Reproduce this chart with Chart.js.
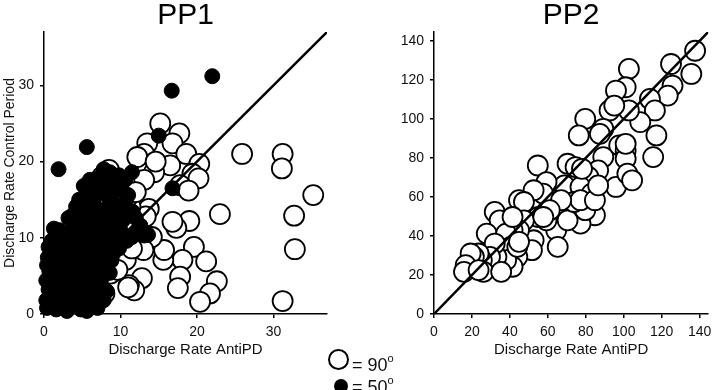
<!DOCTYPE html>
<html>
<head>
<meta charset="utf-8">
<script src="https://cdn.jsdelivr.net/npm/chart.js@4.4.0/dist/chart.umd.min.js"></script>
<style>
	body { margin: 0; background: #fff; width: 720px; height: 390px; position: relative; overflow: hidden; font-family: "Liberation Sans", Arial, sans-serif; }
	canvas { position: absolute; top: 0; }
	#pp1 { left: 0; }
	#pp2 { left: 380px; }
	.mk { position: absolute; box-sizing: border-box; border-radius: 50%; }
	.open { left: 328px; top: 349px; width: 21px; height: 21px; border: 2px solid #000; background: #fff; }
	.filled { left: 334px; top: 379px; width: 14px; height: 14px; background: #000; }
	.lbl { position: absolute; font-size: 18px; line-height: 20px; color: #111; white-space: nowrap; }
	.lbl sup { font-size: 11px; position: relative; top: -2px; }
</style>
</head>
<body>
<canvas id="pp1" width="345" height="390"></canvas>
<canvas id="pp2" width="340" height="390"></canvas>

<span class="mk open"></span><span class="lbl" style="left:352px;top:350px">= 90<sup>o</sup></span>
<span class="mk filled"></span><span class="lbl" style="left:352px;top:372px">= 50<sup>o</sup></span>

<script>
// ---- data ----
// PP1, 90 deg (open circles)
var pp1OpenX = [15.2,17.7,13.5,16.8,13.1,18.6,16.5,14.4,20.3,19.4,20.2,17.8,18.9,25.9,31.2,31.1,35.2,32.7,32.8,31.2,
	23.0,19.0,17.3,16.8,19.6,21.2,22.6,21.7,20.4,18.1,17.8,17.5,15.6,15.7,14.1,13.7,13.3,12.6,13.0,12.8,
	11.8,11.1,10.7,10.7,11.5,10.2,11.3,9.6,8.7,7.9,7.6,8.5,7.4,6.6,12.2,9.2,8.0,11.5,13.1,10.9,
	7.7,8.3,9.6,11.0,6.0,5.0,8.8,9.9,12.0,14.6];
var pp1OpenY = [25.0,23.7,22.4,22.4,21.0,21.0,19.5,18.6,19.7,18.4,17.8,16.9,16.2,21.0,21.0,19.1,15.6,12.9,8.5,1.7,
	13.1,12.2,11.3,12.1,8.8,6.9,4.3,2.7,1.6,7.1,4.9,3.4,7.1,8.4,10.1,13.8,12.8,10.6,8.4,4.7,
	3.1,3.8,7.1,9.7,8.6,14.9,14.1,14.5,5.3,2.7,18.0,18.9,10.1,12.8,20.6,9.3,7.9,16.7,17.6,15.3,
	10.6,7.5,5.8,3.5,14.5,10.0,13.5,12.5,16.0,20.0];

// PP1, 50 deg (filled dots)
var pp1FilledX = [22.0,16.7,5.6,1.9,15.0,16.8,1.3,9.8,11.5,10.6,7.4,7.0,5.5,4.2,6.1,7.9,8.7,10.7,9.6,8.3,
	11.5,13.1,12.3,10.0,9.2,5.0,3.2,2.5,
	0.4,1.0,1.6,2.2,2.8,3.5,4.2,5.0,5.8,6.6,7.3,0.6,1.3,2.0,2.8,3.6,4.4,5.2,6.0,6.8,7.6,0.7,
	1.5,2.3,3.1,3.9,4.7,5.5,6.3,7.1,8.0,1.2,2.0,2.8,3.6,4.4,5.2,6.0,6.8,7.6,8.4,3.0,
	4.0,4.8,5.8,6.6,7.4,1.0,0.5,8.6,8.2,9.0,1.8,3.0,4.8,
	0.3,0.9,1.4,2.5,3.3,4.0,4.6,5.4,6.2,7.0,7.8,0.3,1.8,2.6,3.2,4.0,4.8,5.6,6.4,7.2,
	0.4,1.0,1.8,2.6,3.4,4.2,5.0,5.8,6.6,7.4,0.6,1.5,2.4,3.3,4.0,4.8,5.6,6.2,7.2,2.0,
	3.8,5.5,6.5,4.6,8.0,9.0,8.4,6.4,3.8,4.6,5.2,6.0,7.8,8.6,9.2,10.2,11.0,12.0,11.6,10.4,
	8.6,7.4,6.8,5.2,9.2,12.6,13.6,10.8,9.8,9.4,8.8,7.0,5.6,8.8];
var pp1FilledY = [31.2,29.3,21.9,19.0,23.4,16.5,11.2,18.2,18.6,17.6,18.0,16.7,15.4,14.1,13.2,15.8,16.2,14.7,13.2,11.9,
	10.1,10.3,10.8,11.0,9.3,12.0,12.6,10.5,
	0.8,1.8,0.6,2.2,1.2,2.5,1.4,2.4,1.9,2.6,2.4,3.2,4.2,3.6,4.6,3.8,4.4,3.6,4.2,3.5,4.8,5.6,
	6.4,5.6,6.8,6.0,7.0,5.8,6.6,6.0,7.2,8.0,8.6,7.8,9.2,8.4,9.4,8.4,9.2,8.8,10.0,10.2,
	10.8,11.4,10.6,11.4,12.2,9.6,7.4,5.4,3.0,7.8,1.0,0.4,0.6,
	1.8,2.6,1.2,0.8,1.8,2.8,2.0,1.2,1.2,1.6,1.8,4.4,5.0,3.0,5.2,4.9,5.4,4.6,5.2,4.4,
	6.4,7.0,7.4,6.6,7.6,7.2,8.0,7.2,7.8,7.4,8.8,9.2,9.4,8.4,9.8,10.0,9.8,10.0,10.4,11.0,
	11.8,13.4,14.6,13.0,13.6,14.6,17.6,16.0,13.0,15.0,16.8,17.6,19.0,18.6,17.0,16.2,15.6,12.6,13.4,12.4,
	14.6,13.6,12.6,13.8,12.2,11.6,10.4,9.6,8.6,10.8,7.0,0.8,0.4,11.2];

// PP2, 90 deg (open circles)
var pp2X = [137.6,135.6,124.9,125.7,123.2,113.8,116.4,108.7,117.2,115.5,102.7,101.0,95.9,102.7,92.5,79.7,76.3,89.2,87.4,97.6,
	101.0,101.0,89.2,95.9,101.9,104.4,70.4,54.7,86.5,81.4,74.6,68.7,77.2,83.1,84.8,74.6,77.2,79.7,66.1,64.4,
	65.2,70.4,59.3,57.5,52.5,55.0,59.3,44.8,47.4,47.4,52.5,51.6,44.8,41.4,32.0,34.6,27.8,38.0,40.5,43.9,
	41.4,38.0,32.9,32.0,29.5,25.2,23.5,26.1,21.0,19.3,16.7,15.8,23.5,35.4,43.9,44.8,73.8,77.2,84.8,86.5,
	101.0,78.0,67.0,61.0,41.4,95.0,57.6];
var pp2Y = [134.9,123.0,128.1,117.0,111.9,110.2,104.3,98.3,91.5,80.4,125.6,116.2,114.5,104.3,104.3,100.0,91.5,94.9,92.3,86.4,
	83.8,79.6,80.4,65.1,71.9,68.5,77.0,76.1,73.6,70.2,75.3,65.9,65.1,61.7,50.6,53.2,46.3,53.2,53.2,42.9,
	34.4,48.0,67.6,61.7,63.4,49.7,48.0,58.3,57.4,48.0,37.8,32.7,42.9,42.9,52.3,48.0,41.2,41.2,34.4,29.3,
	24.2,27.6,29.3,36.1,29.3,27.6,31.0,21.6,29.3,31.0,25.0,21.6,22.5,21.6,34.4,37.0,57.4,58.3,58.3,65.9,
	87.2,74.4,58.3,53.2,49.7,106.8,49.7];

// identity lines and tick labels
var pp1Diag = [0, 37];
var pp2Diag = [0, 144.5];
var pp1Ticks = [0, 10, 20, 30];
var pp2Ticks = [0, 20, 40, 60, 80, 100, 120, 140];

Chart.defaults.font.family = '"Liberation Sans", Arial, sans-serif';
Chart.defaults.color = '#111';

function pts(xs, ys) {
	return xs.map(function (x, i) { return { x: x, y: ys[i] }; });
}

function axis(max, ticks, size, titleText, titleOpts) {
	return {
		type: 'linear', min: 0, max: max,
		afterFit: function (s) { if (s.isHorizontal()) s.height = size; else s.width = size; },
		afterBuildTicks: function (s) { s.ticks = ticks.map(function (v) { return { value: v }; }); },
		grid: { drawOnChartArea: false, drawTicks: true, tickLength: 4, color: '#000', lineWidth: 1.5 },
		border: { color: '#000', width: 1.5 },
		ticks: { color: '#111', font: { size: 14 }, padding: 6, maxRotation: 0 },
		title: titleText ? Object.assign({ display: true, text: titleText, color: '#111' }, titleOpts) : { display: false }
	};
}

function options(title, xs, ys) {
	return {
		responsive: false,
		animation: false,
		events: [],
		layout: { padding: { left: 0, right: title === 'PP1' ? 18 : 2, top: 0, bottom: 0 } },
		plugins: {
			legend: { display: false },
			tooltip: { enabled: false },
			title: { display: true, text: title, fullSize: false, color: '#000',
				font: { size: 30, weight: 'normal', lineHeight: 1 }, padding: { top: 1, bottom: 1 } }
		},
		scales: { x: xs, y: ys }
	};
}

function openSet(data) {
	return { data: data, order: 3, clip: false, pointRadius: 10, pointBorderWidth: 1.8,
		pointBackgroundColor: '#fff', pointBorderColor: '#000', showLine: false };
}
function lineSet(d, order) {
	return { data: d.map(function (v) { return { x: v, y: v }; }), order: order, showLine: true,
		pointRadius: 0, borderColor: '#000', borderWidth: 2.5 };
}

new Chart(document.getElementById('pp1'), {
	type: 'scatter',
	data: {
		datasets: [
			{ data: pts(pp1FilledX, pp1FilledY), order: 1, clip: false, pointRadius: 7.5, pointBorderWidth: 1,
				pointBackgroundColor: '#000', pointBorderColor: '#000' },
			lineSet(pp1Diag, 2),
			openSet(pts(pp1OpenX, pp1OpenY))
		]
	},
	options: options('PP1',
		axis(37, pp1Ticks, 76, 'Discharge Rate AntiPD', { font: { size: 15 }, padding: { top: 0, bottom: 31 } }),
		axis(37, pp1Ticks, 44, 'Discharge Rate Control Period', { font: { size: 14 }, padding: { top: 2, bottom: 0 } }))
});

new Chart(document.getElementById('pp2'), {
	type: 'scatter',
	data: {
		datasets: [
			lineSet(pp2Diag, 1),
			openSet(pts(pp2X, pp2Y))
		]
	},
	options: options('PP2',
		axis(144.5, pp2Ticks, 76, 'Discharge Rate AntiPD', { font: { size: 15 }, padding: { top: 0, bottom: 31 } }),
		axis(144.5, pp2Ticks, 54, null))
});
</script>
</body>
</html>
